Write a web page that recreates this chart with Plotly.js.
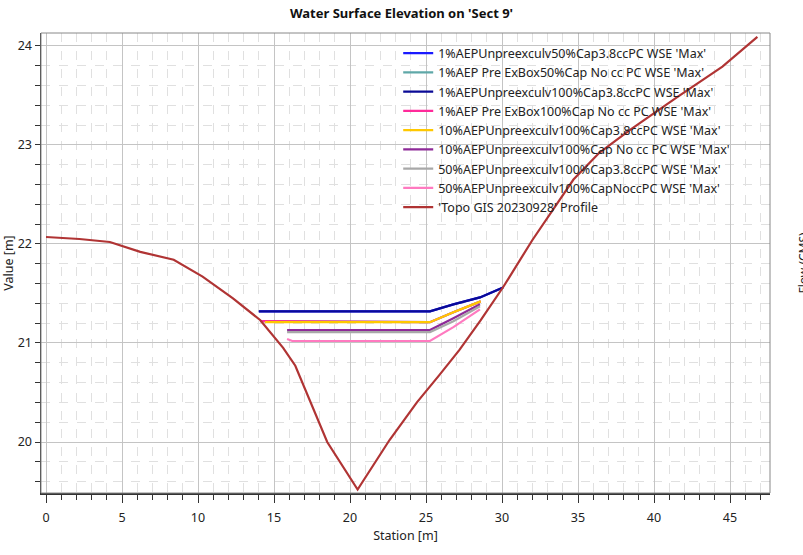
<!DOCTYPE html>
<html>
<head>
<meta charset="utf-8">
<script src="https://cdn.plot.ly/plotly-3.0.1.min.js"></script>
<style>html,body{margin:0;padding:0;background:#fff;}#chart{width:803px;height:555px;}</style>
</head>
<body>
<div id="chart"></div>
<script>
// ---- data ----
const profileStation = [0, 1.4, 2.2, 4.2, 6.2, 8.4, 10.3, 12.3, 14.1, 15.6, 16.4, 18.5, 20.5, 22.6, 24.4, 25.9, 27.2, 28.6, 30.1, 32.0, 34.7, 36.4, 38.4, 41.5, 44.5, 46.8];
const profileElev    = [22.07, 22.06, 22.05, 22.02, 21.92, 21.84, 21.67, 21.45, 21.23, 20.95, 20.77, 20.00, 19.52, 20.02, 20.40, 20.68, 20.93, 21.23, 21.57, 22.04, 22.65, 22.92, 23.15, 23.48, 23.79, 24.09];

const wse1_50cap_cc_x   = [14.0, 25.26, 26.8, 28.55, 30.07];
const wse1_50cap_cc_y   = [21.32, 21.32, 21.39, 21.46, 21.56];
const wse1pre_50cap_x   = [14.1, 25.26, 26.8, 28.6];
const wse1pre_50cap_y   = [21.22, 21.21, 21.31, 21.42];
const wse1_100cap_cc_x  = [14.0, 25.26, 26.8, 28.55, 30.07];
const wse1_100cap_cc_y  = [21.32, 21.32, 21.39, 21.46, 21.56];
const wse1pre_100cap_x  = [14.1, 25.26, 26.8, 28.6];
const wse1pre_100cap_y  = [21.22, 21.21, 21.31, 21.42];
const wse10_cc_x        = [14.4, 25.26, 26.8, 28.6];
const wse10_cc_y        = [21.21, 21.21, 21.31, 21.42];
const wse10_nocc_x      = [15.86, 25.26, 26.8, 28.55];
const wse10_nocc_y      = [21.13, 21.13, 21.25, 21.39];
const wse50_cc_x        = [15.86, 25.26, 26.8, 28.55];
const wse50_cc_y        = [21.11, 21.11, 21.22, 21.37];
const wse50_nocc_x      = [15.86, 16.2, 25.26, 26.8, 28.55];
const wse50_nocc_y      = [21.04, 21.02, 21.02, 21.16, 21.34];

const seriesNames = [
  "1%AEPUnpreexculv50%Cap3.8ccPC WSE 'Max'",
  "1%AEP Pre ExBox50%Cap No cc PC WSE 'Max'",
  "1%AEPUnpreexculv100%Cap3.8ccPC WSE 'Max'",
  "1%AEP Pre ExBox100%Cap No cc PC WSE 'Max'",
  "10%AEPUnpreexculv100%Cap3.8ccPC WSE 'Max'",
  "10%AEPUnpreexculv100%Cap No cc PC WSE 'Max'",
  "50%AEPUnpreexculv100%Cap3.8ccPC WSE 'Max'",
  "50%AEPUnpreexculv100%CapNoccPC WSE 'Max'",
  "'Topo GIS 20230928' Profile"
];
const seriesColors = ["#1a1aff", "#5fa8a8", "#0a0a96", "#ff2a9a", "#ffc800", "#8e2a98", "#a8a8a8", "#ff7ac0", "#b03434"];

const xs = [wse1_50cap_cc_x, wse1pre_50cap_x, wse1_100cap_cc_x, wse1pre_100cap_x, wse10_cc_x, wse10_nocc_x, wse50_cc_x, wse50_nocc_x, profileStation];
const ys = [wse1_50cap_cc_y, wse1pre_50cap_y, wse1_100cap_cc_y, wse1pre_100cap_y, wse10_cc_y, wse10_nocc_y, wse50_cc_y, wse50_nocc_y, profileElev];

const traces = seriesNames.map((n, i) => ({
  x: xs[i], y: ys[i], name: n, type: 'scatter', mode: 'lines',
  line: {color: seriesColors[i], width: 2.2}
}));

const FONT = 'Noto Sans, Open Sans, sans-serif';
const layout = {
  width: 803, height: 555,
  margin: {l: 41, r: 33, t: 33, b: 62},
  paper_bgcolor: '#fff', plot_bgcolor: '#fff',
  font: {family: FONT, size: 12, color: '#222'},
  title: {text: "<b>Water Surface Elevation on 'Sect 9'</b>", x: 0.5, xanchor: 'center', y: 0.975, yanchor: 'middle', font: {size: 13, color: '#111'}},
  showlegend: true,
  legend: {x: 0.49, y: 0.988, xanchor: 'left', yanchor: 'top', bgcolor: 'rgba(0,0,0,0)', borderwidth: 0,
           font: {size: 12.5, color: '#222'}, tracegroupgap: 0, itemwidth: 30},
  xaxis: {
    range: [-0.33, 47.63], tickmode: 'linear', tick0: 0, dtick: 5,
    ticks: 'outside', ticklen: 8, tickcolor: '#333', tickwidth: 1,
    showline: true, linecolor: '#333', linewidth: 1.5, mirror: false,
    showgrid: true, gridcolor: '#c4c4c4', gridwidth: 1, zeroline: false,
    minor: {dtick: 1, ticks: 'outside', ticklen: 5, tickcolor: '#333', showgrid: true, gridcolor: '#e0e0e0', griddash: 'dash'},
    title: {text: 'Station [m]', font: {size: 12.5}, standoff: 6},
    tickfont: {size: 12.5}, ticklabelstandoff: 4
  },
  yaxis: {
    range: [19.485, 24.13], tickmode: 'linear', tick0: 20, dtick: 1,
    ticks: 'outside', ticklen: 5, tickcolor: '#333',
    showline: true, linecolor: '#333', linewidth: 1.5, mirror: false,
    showgrid: true, gridcolor: '#c4c4c4', gridwidth: 1, zeroline: false,
    minor: {dtick: 0.2, ticks: 'outside', ticklen: 5, tickcolor: '#333', showgrid: true, gridcolor: '#e0e0e0', griddash: 'dash'},
    title: {text: 'Value [m]', font: {size: 12.5}, standoff: 4},
    tickfont: {size: 12.5}
  },
  shapes: [{type: 'rect', xref: 'paper', yref: 'paper', x0: 0, x1: 1, y0: 0, y1: 1, line: {color: '#888', width: 1}, fillcolor: 'rgba(0,0,0,0)', layer: 'above'}],
  annotations: [{text: 'Flow (CMS)', xref: 'paper', yref: 'paper', x: 1, y: 0.5, xanchor: 'left', yanchor: 'middle', xshift: 22, textangle: -90, showarrow: false, font: {size: 12, color: '#222'}}]
};

Plotly.newPlot('chart', traces, layout, {displayModeBar: false, staticPlot: true});
</script>
</body>
</html>
